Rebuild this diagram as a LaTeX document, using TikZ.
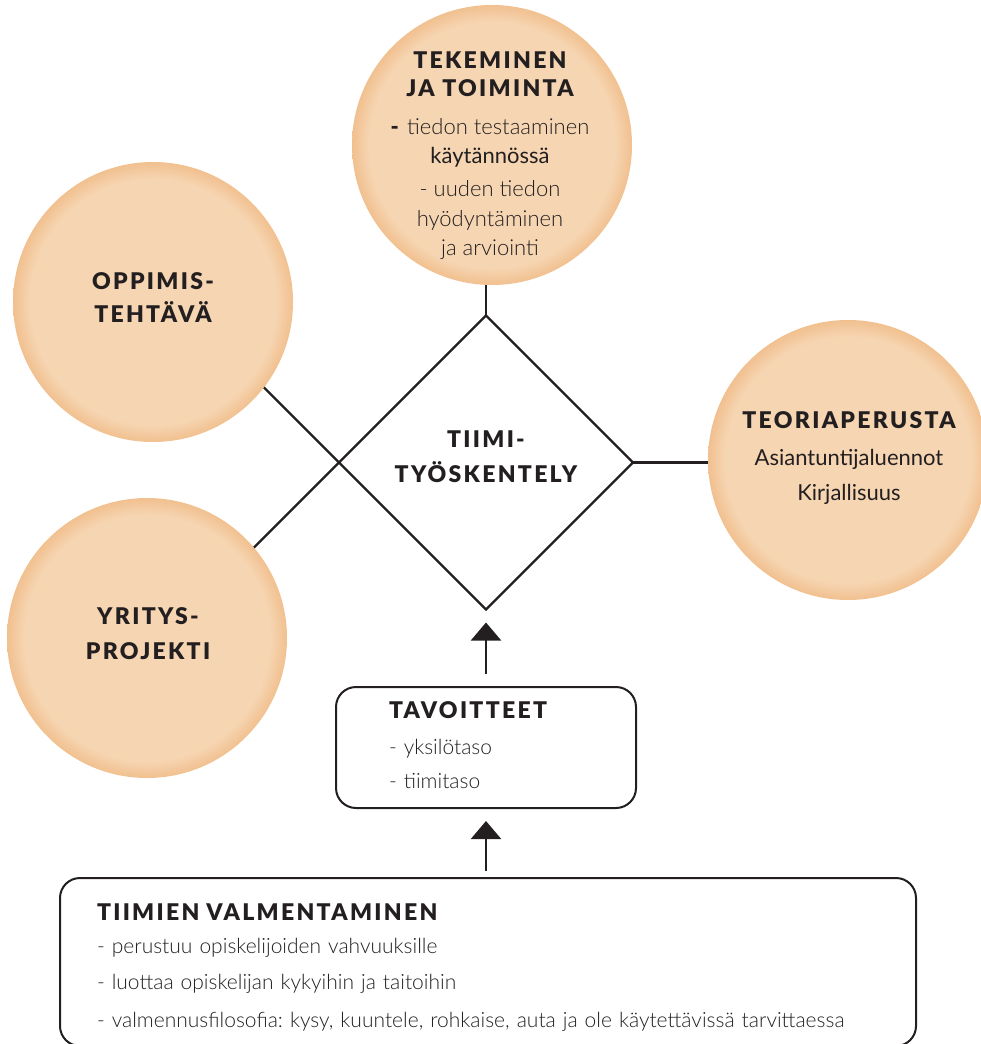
\documentclass[tikz,border=0pt]{standalone}
\usepackage{fontspec}
\setmainfont{Lato}[UprightFont={* Light}, BoldFont={* Black}, BoldFeatures={LetterSpace=10}]
\newfontfamily\midfont{Lato}
\newcommand{\heading}[1]{{\fontsize{23}{30}\selectfont\bfseries #1}}
\usetikzlibrary{shapes.geometric,arrows.meta,calc}
\definecolor{circle-light}{RGB}{246,213,178}
\definecolor{circle-rim}{RGB}{241,192,143}
\definecolor{ink}{RGB}{35,31,32}
\pgfdeclareradialshading{circle-glow}{\pgfpointorigin}{color(0bp)=(circle-light); color(22bp)=(circle-light); color(25bp)=(circle-rim); color(50bp)=(circle-rim)}
\frenchspacing
\tikzset{
    glow-circle/.style = {circle, minimum size=280pt, inner sep=0pt, shading=circle-glow},
    circle-text/.style = {align=center, text=ink, inner sep=0pt, font=\fontsize{22}{30}\selectfont},
    head-text/.style = {circle-text, font=\fontsize{23}{30}\selectfont\bfseries},
    team-diamond/.style = {diamond, draw=ink, line width=2.2pt, minimum size=294pt, inner sep=0pt, outer sep=0pt},
    info-box/.style = {draw=ink, line width=2pt, rounded corners=20pt},
    box-text/.style = {align=left, text=ink, inner sep=0pt, font=\fontsize{21}{35}\selectfont},
    link/.style = {draw=ink, line width=2.2pt},
    push/.style = {link, -{Triangle[width=30pt,length=18pt]}},
}

\begin{document}
\begin{tikzpicture}[x=1pt, y=-1pt]
\path[use as bounding box, clip] (0,0) rectangle (981,1044);

% centre of the diagram
\node[team-diamond] (tiimi) at (486,462.5) {};
\node[head-text] (tiimi-text) at (486,456.5) {TIIMI-\\[5pt]TYÖSKENTELY};
\draw[link] (tiimi.west) -- ($(tiimi.south)!1.6!(tiimi.west)$);
\draw[link] (tiimi.west) -- ($(tiimi.north)!1.6!(tiimi.west)$);

% circles
\node[glow-circle] (tekeminen) at (492,145) {};
\node[glow-circle] (oppimis) at (153,302) {};
\node[glow-circle] (yritys) at (147,638) {};
\node[glow-circle] (teoria) at (848,460) {};

\node[circle-text] (tekeminen-text) at (490,156) {\heading{TEKEMINEN}\\[-2pt]\heading{JA TOIMINTA}\\[8pt]\textbf{-} tiedon testaaminen\\[-1pt]{\midfont käytännössä}\\[3pt]- uuden tiedon\\hyödyntäminen\\[-1pt]ja arviointi};
\node[head-text] (oppimis-text) at (153,297.5) {OPPIMIS-\\[3pt]TEHTÄVÄ};
\node[head-text] (yritys-text) at (148,633.5) {YRITYS-\\[5pt]PROJEKTI};
\node[circle-text] (teoria-text) at (849,458) {\heading{TEORIAPERUSTA}\\[7pt]{\midfont Asiantuntijaluennot}\\[5pt]{\midfont Kirjallisuus}};

\draw[link] (tiimi.north) -- (tiimi.north |- tekeminen.south);
\draw[link] (tiimi.east) -- (tiimi.east -| teoria.west);

% boxes
\node[info-box, minimum width=300pt, minimum height=121pt] (tavoitteet) at (486,747.5) {};
\node[box-text, text width=194pt] (tavoitteet-text) at ([yshift=2.5pt]tavoitteet.center) {\heading{TAVOITTEET}\\[1pt]- yksilötaso\\[-1pt]- tiimitaso};
\node[info-box, minimum width=856pt, minimum height=168pt] (valmennus) at (488,962) {};
\node[box-text, text width=782pt] (valmennus-text) at ([yshift=-6pt]valmennus.center) {\heading{TIIMIEN VALMENTAMINEN}\\[-2pt]- perustuu opiskelijoiden vahvuuksille\\[1pt]- luottaa opiskelijan kykyihin ja taitoihin\\[3pt]- valmennusfilosofia: kysy, kuuntele, rohkaise, auta ja ole käytettävissä tarvittaessa};

\draw[push, shorten <=12pt, shorten >=13pt] (tavoitteet.north) -- (tavoitteet.north |- tiimi.south);
\draw[push, shorten <=6pt, shorten >=12pt] (tavoitteet.south |- valmennus.north) -- (tavoitteet.south);
\end{tikzpicture}
\end{document}
